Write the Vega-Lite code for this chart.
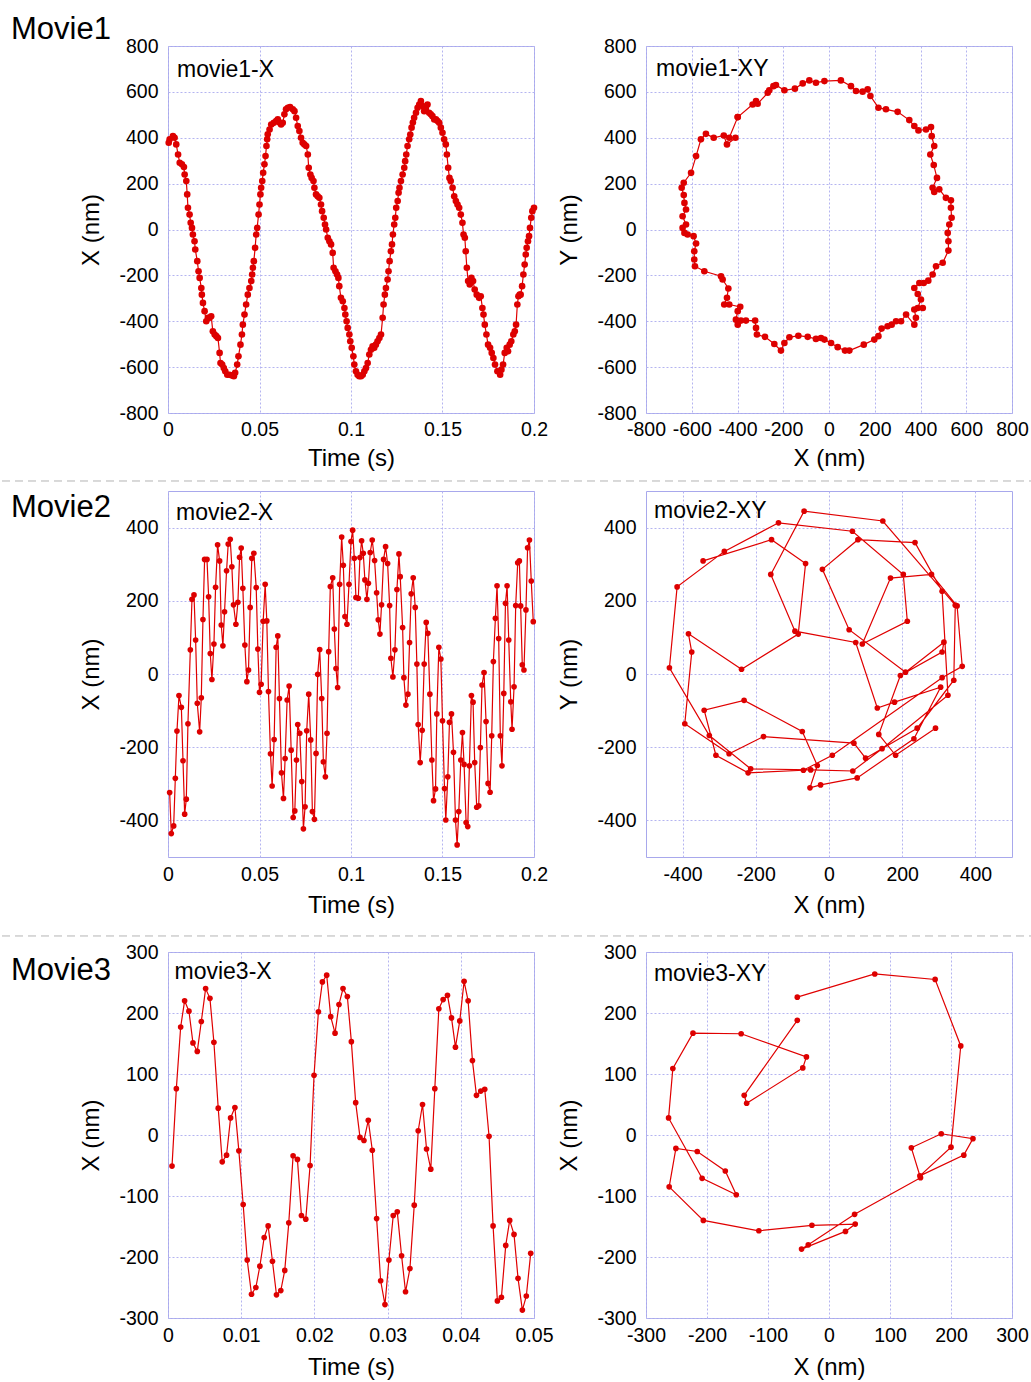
{
"$schema": "https://vega.github.io/schema/vega-lite/v6.json",
"padding": 0,
"autosize": {"type": "pad"},
"background": "white",
"config": {
 "font": "Liberation Sans",
 "view": {"stroke": "#a8a8ec", "strokeWidth": 1},
 "axis": {"domain": false, "ticks": false, "tickSize": 0, "grid": true, "gridColor": "#b4b4f0", "gridDash": [2,2], "gridWidth": 1, "labelFont": "Liberation Sans", "labelFontSize": 19.5, "labelColor": "#000000", "titleFont": "Liberation Sans", "titleFontSize": 24, "titleFontWeight": "normal", "titleColor": "#000000", "labelFlush": false, "labelOverlap": false, "labelBound": false},
 "axisX": {"labelPadding": 7, "titlePadding": 8},
 "axisY": {"labelPadding": 10, "titlePadding": 15},
 "point": {"filled": true, "opacity": 1},
 "text": {"font": "Liberation Sans", "color": "#000000"}
},
"datasets": {
 "m1x": [
{"t":0.0004,"x":378},{"t":0.0009,"x":393},{"t":0.0027,"x":407},{"t":0.0036,"x":400},{"t":0.0045,"x":371},{"t":0.0055,"x":327},{"t":0.0064,"x":291},{"t":0.0076,"x":284},{"t":0.0087,"x":272},{"t":0.0091,"x":240},{"t":0.0100,"x":211},{"t":0.0105,"x":153},{"t":0.0109,"x":95},{"t":0.0118,"x":65},{"t":0.0124,"x":29},{"t":0.0131,"x":7},{"t":0.0136,"x":-22},{"t":0.0145,"x":-51},{"t":0.0149,"x":-87},{"t":0.0160,"x":-138},{"t":0.0167,"x":-182},{"t":0.0173,"x":-211},{"t":0.0182,"x":-255},{"t":0.0185,"x":-284},{"t":0.0191,"x":-320},{"t":0.0200,"x":-356},{"t":0.0209,"x":-400},{"t":0.0218,"x":-385},{"t":0.0227,"x":-385},{"t":0.0236,"x":-378},{"t":0.0245,"x":-444},{"t":0.0255,"x":-458},{"t":0.0264,"x":-465},{"t":0.0273,"x":-473},{"t":0.0282,"x":-538},{"t":0.0287,"x":-582},{"t":0.0296,"x":-589},{"t":0.0305,"x":-604},{"t":0.0313,"x":-618},{"t":0.0324,"x":-633},{"t":0.0336,"x":-633},{"t":0.0349,"x":-636},{"t":0.0360,"x":-640},{"t":0.0367,"x":-625},{"t":0.0378,"x":-589},{"t":0.0385,"x":-553},{"t":0.0396,"x":-502},{"t":0.0404,"x":-458},{"t":0.0409,"x":-415},{"t":0.0418,"x":-371},{"t":0.0427,"x":-327},{"t":0.0436,"x":-284},{"t":0.0445,"x":-255},{"t":0.0455,"x":-225},{"t":0.0460,"x":-196},{"t":0.0464,"x":-167},{"t":0.0469,"x":-138},{"t":0.0476,"x":-80},{"t":0.0482,"x":-22},{"t":0.0487,"x":7},{"t":0.0495,"x":65},{"t":0.0500,"x":109},{"t":0.0505,"x":153},{"t":0.0509,"x":182},{"t":0.0515,"x":211},{"t":0.0520,"x":247},{"t":0.0527,"x":284},{"t":0.0533,"x":320},{"t":0.0538,"x":364},{"t":0.0542,"x":393},{"t":0.0545,"x":415},{"t":0.0555,"x":436},{"t":0.0564,"x":458},{"t":0.0578,"x":465},{"t":0.0591,"x":473},{"t":0.0600,"x":480},{"t":0.0609,"x":466},{"t":0.0618,"x":458},{"t":0.0627,"x":465},{"t":0.0636,"x":502},{"t":0.0645,"x":524},{"t":0.0655,"x":531},{"t":0.0667,"x":534},{"t":0.0682,"x":524},{"t":0.0691,"x":516},{"t":0.0700,"x":487},{"t":0.0709,"x":451},{"t":0.0718,"x":429},{"t":0.0727,"x":400},{"t":0.0736,"x":378},{"t":0.0745,"x":371},{"t":0.0755,"x":364},{"t":0.0764,"x":327},{"t":0.0769,"x":269},{"t":0.0778,"x":240},{"t":0.0785,"x":225},{"t":0.0795,"x":211},{"t":0.0800,"x":182},{"t":0.0809,"x":153},{"t":0.0818,"x":145},{"t":0.0827,"x":138},{"t":0.0836,"x":109},{"t":0.0842,"x":80},{"t":0.0851,"x":51},{"t":0.0858,"x":22},{"t":0.0864,"x":0},{"t":0.0873,"x":-36},{"t":0.0882,"x":-51},{"t":0.0891,"x":-65},{"t":0.0900,"x":-102},{"t":0.0905,"x":-167},{"t":0.0915,"x":-182},{"t":0.0924,"x":-196},{"t":0.0931,"x":-211},{"t":0.0936,"x":-247},{"t":0.0945,"x":-298},{"t":0.0955,"x":-313},{"t":0.0964,"x":-342},{"t":0.0969,"x":-371},{"t":0.0976,"x":-400},{"t":0.0982,"x":-429},{"t":0.0991,"x":-458},{"t":0.0996,"x":-487},{"t":0.1004,"x":-516},{"t":0.1013,"x":-553},{"t":0.1018,"x":-589},{"t":0.1027,"x":-618},{"t":0.1036,"x":-633},{"t":0.1045,"x":-640},{"t":0.1055,"x":-640},{"t":0.1064,"x":-633},{"t":0.1073,"x":-618},{"t":0.1082,"x":-604},{"t":0.1091,"x":-582},{"t":0.1100,"x":-545},{"t":0.1109,"x":-524},{"t":0.1118,"x":-509},{"t":0.1127,"x":-516},{"t":0.1136,"x":-502},{"t":0.1145,"x":-487},{"t":0.1155,"x":-473},{"t":0.1164,"x":-458},{"t":0.1173,"x":-385},{"t":0.1178,"x":-327},{"t":0.1185,"x":-284},{"t":0.1191,"x":-255},{"t":0.1200,"x":-218},{"t":0.1205,"x":-182},{"t":0.1211,"x":-138},{"t":0.1218,"x":-95},{"t":0.1224,"x":-65},{"t":0.1229,"x":-22},{"t":0.1236,"x":22},{"t":0.1242,"x":51},{"t":0.1247,"x":95},{"t":0.1255,"x":124},{"t":0.1260,"x":160},{"t":0.1265,"x":182},{"t":0.1273,"x":211},{"t":0.1282,"x":240},{"t":0.1291,"x":269},{"t":0.1296,"x":298},{"t":0.1302,"x":327},{"t":0.1309,"x":364},{"t":0.1318,"x":393},{"t":0.1324,"x":414},{"t":0.1331,"x":444},{"t":0.1338,"x":466},{"t":0.1345,"x":487},{"t":0.1355,"x":509},{"t":0.1364,"x":531},{"t":0.1373,"x":545},{"t":0.1382,"x":560},{"t":0.1391,"x":538},{"t":0.1400,"x":516},{"t":0.1409,"x":531},{"t":0.1418,"x":545},{"t":0.1427,"x":509},{"t":0.1436,"x":502},{"t":0.1445,"x":494},{"t":0.1455,"x":480},{"t":0.1464,"x":480},{"t":0.1473,"x":473},{"t":0.1482,"x":465},{"t":0.1491,"x":444},{"t":0.1500,"x":422},{"t":0.1509,"x":393},{"t":0.1518,"x":371},{"t":0.1524,"x":327},{"t":0.1531,"x":269},{"t":0.1538,"x":225},{"t":0.1545,"x":211},{"t":0.1555,"x":182},{"t":0.1564,"x":145},{"t":0.1573,"x":124},{"t":0.1582,"x":109},{"t":0.1591,"x":95},{"t":0.1600,"x":65},{"t":0.1609,"x":29},{"t":0.1615,"x":-22},{"t":0.1622,"x":-36},{"t":0.1627,"x":-95},{"t":0.1633,"x":-167},{"t":0.1640,"x":-225},{"t":0.1649,"x":-240},{"t":0.1658,"x":-211},{"t":0.1667,"x":-225},{"t":0.1676,"x":-262},{"t":0.1687,"x":-284},{"t":0.1700,"x":-298},{"t":0.1709,"x":-291},{"t":0.1718,"x":-342},{"t":0.1724,"x":-371},{"t":0.1731,"x":-415},{"t":0.1740,"x":-458},{"t":0.1749,"x":-502},{"t":0.1760,"x":-516},{"t":0.1769,"x":-538},{"t":0.1778,"x":-560},{"t":0.1787,"x":-589},{"t":0.1800,"x":-618},{"t":0.1815,"x":-633},{"t":0.1822,"x":-611},{"t":0.1831,"x":-589},{"t":0.1840,"x":-538},{"t":0.1851,"x":-516},{"t":0.1858,"x":-531},{"t":0.1867,"x":-502},{"t":0.1876,"x":-487},{"t":0.1887,"x":-458},{"t":0.1895,"x":-444},{"t":0.1902,"x":-415},{"t":0.1909,"x":-327},{"t":0.1915,"x":-291},{"t":0.1922,"x":-284},{"t":0.1927,"x":-284},{"t":0.1935,"x":-247},{"t":0.1942,"x":-196},{"t":0.1949,"x":-153},{"t":0.1955,"x":-109},{"t":0.1960,"x":-80},{"t":0.1967,"x":-51},{"t":0.1973,"x":-29},{"t":0.1978,"x":7},{"t":0.1985,"x":51},{"t":0.1991,"x":80},{"t":0.2000,"x":95}
 ],
 "m1xy": [
{"x":-399,"y":490},{"x":-334,"y":545},{"x":-319,"y":560},{"x":-312,"y":548},{"x":-268,"y":596},{"x":-261,"y":607},{"x":-243,"y":625},{"x":-232,"y":630},{"x":-195,"y":607},{"x":-149,"y":614},{"x":-115,"y":637},{"x":-86,"y":650},{"x":-57,"y":640},{"x":-20,"y":647},{"x":52,"y":650},{"x":96,"y":625},{"x":118,"y":604},{"x":147,"y":601},{"x":169,"y":611},{"x":181,"y":582},{"x":216,"y":531},{"x":249,"y":524},{"x":300,"y":513},{"x":351,"y":477},{"x":373,"y":451},{"x":391,"y":432},{"x":424,"y":436},{"x":446,"y":447},{"x":449,"y":407},{"x":460,"y":364},{"x":443,"y":327},{"x":458,"y":281},{"x":472,"y":225},{"x":453,"y":182},{"x":460,"y":164},{"x":482,"y":175},{"x":511,"y":138},{"x":533,"y":127},{"x":533,"y":95},{"x":536,"y":51},{"x":526,"y":22},{"x":519,"y":-15},{"x":522,"y":-51},{"x":522,"y":-92},{"x":497,"y":-145},{"x":468,"y":-160},{"x":453,"y":-196},{"x":434,"y":-223},{"x":414,"y":-233},{"x":395,"y":-233},{"x":373,"y":-255},{"x":388,"y":-281},{"x":402,"y":-305},{"x":388,"y":-342},{"x":410,"y":-342},{"x":373,"y":-349},{"x":380,"y":-385},{"x":373,"y":-415},{"x":337,"y":-371},{"x":315,"y":-400},{"x":293,"y":-400},{"x":274,"y":-415},{"x":256,"y":-422},{"x":230,"y":-432},{"x":216,"y":-465},{"x":198,"y":-480},{"x":152,"y":-502},{"x":89,"y":-528},{"x":70,"y":-528},{"x":38,"y":-513},{"x":9,"y":-495},{"x":-20,"y":-480},{"x":-35,"y":-473},{"x":-57,"y":-477},{"x":-93,"y":-468},{"x":-134,"y":-463},{"x":-173,"y":-470},{"x":-195,"y":-495},{"x":-210,"y":-528},{"x":-239,"y":-499},{"x":-280,"y":-468},{"x":-315,"y":-458},{"x":-319,"y":-429},{"x":-323,"y":-397},{"x":-363,"y":-397},{"x":-385,"y":-397},{"x":-399,"y":-415},{"x":-407,"y":-393},{"x":-399,"y":-356},{"x":-388,"y":-337},{"x":-436,"y":-327},{"x":-458,"y":-327},{"x":-446,"y":-298},{"x":-440,"y":-257},{"x":-465,"y":-218},{"x":-472,"y":-204},{"x":-545,"y":-182},{"x":-586,"y":-160},{"x":-589,"y":-131},{"x":-589,"y":-95},{"x":-581,"y":-61},{"x":-592,"y":-29},{"x":-618,"y":-22},{"x":-632,"y":-15},{"x":-640,"y":7},{"x":-625,"y":22},{"x":-640,"y":58},{"x":-625,"y":87},{"x":-632,"y":116},{"x":-635,"y":150},{"x":-644,"y":182},{"x":-635,"y":204},{"x":-603,"y":247},{"x":-581,"y":320},{"x":-560,"y":393},{"x":-538,"y":417},{"x":-504,"y":400},{"x":-460,"y":410},{"x":-446,"y":371},{"x":-409,"y":400},{"x":-436,"y":400},{"x":-399,"y":490}
 ],
 "m2x": [
{"t":0.0009,"x":-324},{"t":0.0018,"x":-436},{"t":0.0031,"x":-415},{"t":0.0040,"x":-285},{"t":0.0049,"x":-156},{"t":0.0060,"x":-59},{"t":0.0073,"x":-91},{"t":0.0082,"x":-237},{"t":0.0091,"x":-383},{"t":0.0100,"x":-342},{"t":0.0109,"x":-136},{"t":0.0122,"x":66},{"t":0.0131,"x":204},{"t":0.0142,"x":216},{"t":0.0151,"x":93},{"t":0.0160,"x":-80},{"t":0.0173,"x":-158},{"t":0.0182,"x":-65},{"t":0.0191,"x":149},{"t":0.0200,"x":313},{"t":0.0213,"x":313},{"t":0.0222,"x":211},{"t":0.0231,"x":56},{"t":0.0240,"x":-15},{"t":0.0251,"x":82},{"t":0.0260,"x":237},{"t":0.0271,"x":353},{"t":0.0282,"x":309},{"t":0.0291,"x":134},{"t":0.0300,"x":77},{"t":0.0309,"x":170},{"t":0.0320,"x":282},{"t":0.0329,"x":355},{"t":0.0340,"x":368},{"t":0.0349,"x":293},{"t":0.0358,"x":189},{"t":0.0371,"x":136},{"t":0.0382,"x":196},{"t":0.0391,"x":319},{"t":0.0400,"x":344},{"t":0.0409,"x":234},{"t":0.0420,"x":79},{"t":0.0431,"x":-21},{"t":0.0440,"x":11},{"t":0.0449,"x":182},{"t":0.0458,"x":316},{"t":0.0469,"x":330},{"t":0.0482,"x":236},{"t":0.0491,"x":68},{"t":0.0500,"x":-50},{"t":0.0509,"x":-28},{"t":0.0520,"x":144},{"t":0.0531,"x":245},{"t":0.0540,"x":145},{"t":0.0549,"x":-48},{"t":0.0560,"x":-218},{"t":0.0569,"x":-306},{"t":0.0580,"x":-179},{"t":0.0591,"x":73},{"t":0.0600,"x":104},{"t":0.0609,"x":-67},{"t":0.0620,"x":-270},{"t":0.0631,"x":-340},{"t":0.0640,"x":-231},{"t":0.0651,"x":-71},{"t":0.0662,"x":-33},{"t":0.0673,"x":-208},{"t":0.0684,"x":-392},{"t":0.0693,"x":-374},{"t":0.0702,"x":-235},{"t":0.0709,"x":-138},{"t":0.0720,"x":-162},{"t":0.0731,"x":-294},{"t":0.0740,"x":-423},{"t":0.0749,"x":-363},{"t":0.0758,"x":-155},{"t":0.0769,"x":-55},{"t":0.0780,"x":-180},{"t":0.0789,"x":-376},{"t":0.0800,"x":-397},{"t":0.0809,"x":-217},{"t":0.0818,"x":-1},{"t":0.0829,"x":67},{"t":0.0840,"x":-67},{"t":0.0849,"x":-240},{"t":0.0860,"x":-281},{"t":0.0869,"x":-162},{"t":0.0878,"x":61},{"t":0.0887,"x":239},{"t":0.0900,"x":263},{"t":0.0909,"x":123},{"t":0.0918,"x":15},{"t":0.0927,"x":-37},{"t":0.0938,"x":245},{"t":0.0949,"x":374},{"t":0.0958,"x":297},{"t":0.0967,"x":157},{"t":0.0978,"x":136},{"t":0.0989,"x":245},{"t":0.1000,"x":362},{"t":0.1009,"x":393},{"t":0.1018,"x":316},{"t":0.1027,"x":209},{"t":0.1040,"x":207},{"t":0.1049,"x":318},{"t":0.1058,"x":364},{"t":0.1067,"x":330},{"t":0.1076,"x":257},{"t":0.1087,"x":204},{"t":0.1095,"x":248},{"t":0.1105,"x":332},{"t":0.1116,"x":366},{"t":0.1129,"x":310},{"t":0.1140,"x":222},{"t":0.1149,"x":148},{"t":0.1158,"x":109},{"t":0.1167,"x":189},{"t":0.1178,"x":313},{"t":0.1189,"x":348},{"t":0.1200,"x":302},{"t":0.1211,"x":187},{"t":0.1218,"x":43},{"t":0.1229,"x":-8},{"t":0.1240,"x":66},{"t":0.1251,"x":231},{"t":0.1262,"x":328},{"t":0.1269,"x":266},{"t":0.1282,"x":127},{"t":0.1289,"x":-10},{"t":0.1300,"x":-85},{"t":0.1311,"x":-55},{"t":0.1320,"x":86},{"t":0.1329,"x":219},{"t":0.1340,"x":263},{"t":0.1351,"x":182},{"t":0.1360,"x":27},{"t":0.1367,"x":-138},{"t":0.1378,"x":-242},{"t":0.1389,"x":-154},{"t":0.1400,"x":27},{"t":0.1411,"x":141},{"t":0.1420,"x":111},{"t":0.1431,"x":-55},{"t":0.1442,"x":-235},{"t":0.1451,"x":-346},{"t":0.1462,"x":-314},{"t":0.1469,"x":-109},{"t":0.1480,"x":73},{"t":0.1491,"x":41},{"t":0.1500,"x":-128},{"t":0.1511,"x":-313},{"t":0.1518,"x":-399},{"t":0.1529,"x":-281},{"t":0.1538,"x":-132},{"t":0.1549,"x":-109},{"t":0.1560,"x":-214},{"t":0.1571,"x":-399},{"t":0.1580,"x":-467},{"t":0.1589,"x":-376},{"t":0.1600,"x":-235},{"t":0.1609,"x":-160},{"t":0.1618,"x":-247},{"t":0.1629,"x":-406},{"t":0.1638,"x":-417},{"t":0.1647,"x":-251},{"t":0.1658,"x":-59},{"t":0.1667,"x":-77},{"t":0.1676,"x":-242},{"t":0.1687,"x":-364},{"t":0.1698,"x":-360},{"t":0.1707,"x":-201},{"t":0.1716,"x":-30},{"t":0.1727,"x":4},{"t":0.1738,"x":-130},{"t":0.1749,"x":-299},{"t":0.1760,"x":-323},{"t":0.1769,"x":-169},{"t":0.1778,"x":34},{"t":0.1789,"x":152},{"t":0.1798,"x":241},{"t":0.1807,"x":97},{"t":0.1816,"x":-169},{"t":0.1825,"x":-251},{"t":0.1835,"x":-53},{"t":0.1844,"x":193},{"t":0.1853,"x":241},{"t":0.1862,"x":93},{"t":0.1873,"x":-76},{"t":0.1880,"x":-151},{"t":0.1891,"x":-35},{"t":0.1900,"x":187},{"t":0.1911,"x":304},{"t":0.1920,"x":309},{"t":0.1927,"x":186},{"t":0.1936,"x":25},{"t":0.1945,"x":11},{"t":0.1956,"x":175},{"t":0.1965,"x":345},{"t":0.1975,"x":366},{"t":0.1985,"x":254},{"t":0.1996,"x":143}
 ],
 "m2xy": [
{"x":-344,"y":309},{"x":-157,"y":367},{"x":-64,"y":302},{"x":-84,"y":109},{"x":-239,"y":13},{"x":-384,"y":110},{"x":-375,"y":60},{"x":-394,"y":-136},{"x":-273,"y":-218},{"x":-179,"y":-171},{"x":68,"y":-189},{"x":100,"y":-230},{"x":241,"y":-148},{"x":341,"y":-17},{"x":345,"y":188},{"x":147,"y":418},{"x":-68,"y":445},{"x":-159,"y":272},{"x":-93,"y":117},{"x":73,"y":86},{"x":132,"y":-93},{"x":179,"y":-77},{"x":305,"y":-36},{"x":232,"y":-177},{"x":77,"y":-284},{"x":-23,"y":-303},{"x":-52,"y":-311},{"x":-32,"y":-250},{"x":-73,"y":-157},{"x":-232,"y":-72},{"x":-341,"y":-99},{"x":-309,"y":-222},{"x":-221,"y":-270},{"x":-70,"y":-263},{"x":9,"y":-222},{"x":309,"y":-10},{"x":364,"y":21},{"x":350,"y":186},{"x":280,"y":272},{"x":168,"y":262},{"x":91,"y":82},{"x":214,"y":144},{"x":203,"y":272},{"x":64,"y":390},{"x":-138,"y":413},{"x":-286,"y":335},{"x":-415,"y":238},{"x":-436,"y":17},{"x":-327,"y":-168},{"x":-214,"y":-259},{"x":-50,"y":-262},{"x":65,"y":-265},{"x":145,"y":-204},{"x":325,"y":-58},{"x":309,"y":226},{"x":235,"y":359},{"x":79,"y":367},{"x":-18,"y":286},{"x":55,"y":121},{"x":209,"y":5},{"x":314,"y":87},{"x":309,"y":60},{"x":195,"y":-4},{"x":136,"y":-165},{"x":182,"y":-222},{"x":291,"y":-148}
 ],
 "m3x": [
{"t":0.00055,"x":-51},{"t":0.00114,"x":76},{"t":0.00173,"x":177},{"t":0.00227,"x":220},{"t":0.00286,"x":203},{"t":0.00341,"x":151},{"t":0.0040,"x":137},{"t":0.00455,"x":186},{"t":0.00514,"x":240},{"t":0.00573,"x":224},{"t":0.00627,"x":152},{"t":0.00686,"x":44},{"t":0.00741,"x":-44},{"t":0.0080,"x":-33},{"t":0.00855,"x":28},{"t":0.00914,"x":45},{"t":0.00968,"x":-26},{"t":0.01027,"x":-114},{"t":0.01082,"x":-205},{"t":0.01141,"x":-261},{"t":0.0120,"x":-250},{"t":0.01255,"x":-215},{"t":0.01314,"x":-168},{"t":0.01368,"x":-149},{"t":0.01427,"x":-207},{"t":0.01482,"x":-262},{"t":0.01541,"x":-255},{"t":0.01595,"x":-222},{"t":0.0165,"x":-144},{"t":0.01709,"x":-34},{"t":0.01768,"x":-40},{"t":0.01823,"x":-132},{"t":0.01882,"x":-138},{"t":0.01941,"x":-50},{"t":0.01995,"x":98},{"t":0.02055,"x":202},{"t":0.02109,"x":251},{"t":0.02168,"x":262},{"t":0.02223,"x":194},{"t":0.02282,"x":167},{"t":0.02336,"x":214},{"t":0.02391,"x":240},{"t":0.0245,"x":227},{"t":0.02505,"x":153},{"t":0.02564,"x":53},{"t":0.02623,"x":-4},{"t":0.02677,"x":-9},{"t":0.02736,"x":24},{"t":0.02791,"x":-25},{"t":0.0285,"x":-137},{"t":0.02905,"x":-239},{"t":0.02964,"x":-278},{"t":0.03018,"x":-205},{"t":0.03077,"x":-132},{"t":0.03132,"x":-126},{"t":0.03191,"x":-198},{"t":0.03245,"x":-257},{"t":0.03305,"x":-219},{"t":0.03364,"x":-115},{"t":0.03418,"x":7},{"t":0.03477,"x":50},{"t":0.03532,"x":-23},{"t":0.0359,"x":-56},{"t":0.03645,"x":76},{"t":0.037,"x":207},{"t":0.03759,"x":222},{"t":0.03818,"x":229},{"t":0.03873,"x":192},{"t":0.03927,"x":144},{"t":0.03986,"x":187},{"t":0.04045,"x":252},{"t":0.041,"x":220},{"t":0.04159,"x":122},{"t":0.04214,"x":65},{"t":0.04273,"x":72},{"t":0.04327,"x":75},{"t":0.04386,"x":-2},{"t":0.04441,"x":-149},{"t":0.045,"x":-272},{"t":0.04555,"x":-266},{"t":0.04614,"x":-181},{"t":0.04668,"x":-140},{"t":0.04727,"x":-163},{"t":0.04782,"x":-235},{"t":0.04841,"x":-287},{"t":0.04895,"x":-264},{"t":0.04955,"x":-194}
 ],
 "m3xy": [
{"x":-52,"y":188},{"x":-139,"y":65},{"x":-135,"y":52},{"x":-43,"y":110},{"x":-37,"y":128},{"x":-144,"y":166},{"x":-223,"y":167},{"x":-256,"y":109},{"x":-263,"y":28},{"x":-208,"y":-71},{"x":-152,"y":-98},{"x":-170,"y":-59},{"x":-216,"y":-27},{"x":-251,"y":-22},{"x":-262,"y":-85},{"x":-206,"y":-140},{"x":-115,"y":-157},{"x":-28,"y":-148},{"x":43,"y":-146},{"x":27,"y":-158},{"x":-45,"y":-187},{"x":-34,"y":-180},{"x":42,"y":-130},{"x":150,"y":-70},{"x":135,"y":-21},{"x":184,"y":2},{"x":236,"y":-6},{"x":221,"y":-33},{"x":149,"y":-67},{"x":200,"y":-20},{"x":216,"y":146},{"x":174,"y":255},{"x":75,"y":264},{"x":-52,"y":226}
 ]
},
"concat": [
 {
  "hconcat": [
   {
    "width": 366, "height": 367,
    "layer": [
     {"data": {"name": "m1x"}, "mark": {"type": "line", "color": "#e00000", "strokeWidth": 1.2},
      "encoding": {
       "x": {"field": "t", "type": "quantitative", "scale": {"domain": [0, 0.2], "nice": false, "zero": false}, "axis": {"title": "Time (s)", "values": [0, 0.05, 0.1, 0.15, 0.2], "labelExpr": "datum.value + ''"}},
       "y": {"field": "x", "type": "quantitative", "scale": {"domain": [-800, 800], "nice": false, "zero": false}, "axis": {"title": "X (nm)", "values": [-800, -600, -400, -200, 0, 200, 400, 600, 800], "labelExpr": "datum.value + ''"}}}},
     {"data": {"name": "m1x"}, "mark": {"type": "point", "filled": true, "color": "#dd0000", "size": 44, "opacity": 1},
      "encoding": {"x": {"field": "t", "type": "quantitative"}, "y": {"field": "x", "type": "quantitative"}}},
     {"data": {"values": [{"label": "movie1-X"}]}, "mark": {"type": "text", "align": "left", "baseline": "alphabetic", "fontSize": 23},
      "encoding": {"x": {"datum": 0.0049}, "y": {"datum": 665}, "text": {"field": "label"}}},
     {"data": {"values": [{"label": "Movie1"}]}, "mark": {"type": "text", "align": "left", "baseline": "alphabetic", "fontSize": 31},
      "encoding": {"x": {"datum": -0.0858}, "y": {"datum": 829}, "text": {"field": "label"}}},
     {"data": {"values": [{}]}, "mark": {"type": "rule", "opacity": 0},
      "encoding": {"x": {"datum": -0.091257}, "x2": {"datum": 0.472131}, "y": {"datum": 996.2}}},
     {"data": {"values": [{}]}, "mark": {"type": "rule", "color": "#b4b4b4", "strokeWidth": 1, "strokeDash": [8, 5]},
      "encoding": {"x": {"datum": -0.09071}, "x2": {"datum": 0.472131}, "y": {"datum": -1096.4}}}
    ]
   },
   {
    "width": 366, "height": 367,
    "layer": [
     {"data": {"name": "m1xy"}, "mark": {"type": "line", "color": "#e00000", "strokeWidth": 1.2},
      "encoding": {
       "x": {"field": "x", "type": "quantitative", "scale": {"domain": [-800, 800], "nice": false, "zero": false}, "axis": {"title": "X (nm)", "values": [-800, -600, -400, -200, 0, 200, 400, 600, 800], "labelExpr": "datum.value + ''"}},
       "y": {"field": "y", "type": "quantitative", "scale": {"domain": [-800, 800], "nice": false, "zero": false}, "axis": {"title": "Y (nm)", "values": [-800, -600, -400, -200, 0, 200, 400, 600, 800], "labelExpr": "datum.value + ''"}},
       "order": {"value": null}}},
     {"data": {"name": "m1xy"}, "mark": {"type": "point", "filled": true, "color": "#dd0000", "size": 44, "opacity": 1},
      "encoding": {"x": {"field": "x", "type": "quantitative"}, "y": {"field": "y", "type": "quantitative"}}},
     {"data": {"values": [{"label": "movie1-XY"}]}, "mark": {"type": "text", "align": "left", "baseline": "alphabetic", "fontSize": 23},
      "encoding": {"x": {"datum": -756}, "y": {"datum": 669}, "text": {"field": "label"}}}
    ]
   }
  ],
  "spacing": 112, "bounds": "flush"
 },
 {
  "hconcat": [
   {
    "width": 366, "height": 366,
    "layer": [
     {"data": {"name": "m2x"}, "mark": {"type": "line", "color": "#e00000", "strokeWidth": 1.2},
      "encoding": {
       "x": {"field": "t", "type": "quantitative", "scale": {"domain": [0, 0.2], "nice": false, "zero": false}, "axis": {"title": "Time (s)", "values": [0, 0.05, 0.1, 0.15, 0.2], "labelExpr": "datum.value + ''", "labelPadding": 8, "titlePadding": 10}},
       "y": {"field": "x", "type": "quantitative", "scale": {"domain": [-500, 500], "nice": false, "zero": false}, "axis": {"title": "X (nm)", "values": [-400, -200, 0, 200, 400], "labelExpr": "datum.value + ''"}}}},
     {"data": {"name": "m2x"}, "mark": {"type": "point", "filled": true, "color": "#dd0000", "size": 32, "opacity": 1},
      "encoding": {"x": {"field": "t", "type": "quantitative"}, "y": {"field": "x", "type": "quantitative"}}},
     {"data": {"values": [{"label": "movie2-X"}]}, "mark": {"type": "text", "align": "left", "baseline": "alphabetic", "fontSize": 23},
      "encoding": {"x": {"datum": 0.0044}, "y": {"datum": 421}, "text": {"field": "label"}}},
     {"data": {"values": [{"label": "Movie2"}]}, "mark": {"type": "text", "align": "left", "baseline": "alphabetic", "fontSize": 31},
      "encoding": {"x": {"datum": -0.0858}, "y": {"datum": 429}, "text": {"field": "label"}}},
     {"data": {"values": [{}]}, "mark": {"type": "rule", "opacity": 0},
      "encoding": {"x": {"datum": -0.091257}, "x2": {"datum": 0.472131}, "y": {"datum": 521.9}}},
     {"data": {"values": [{}]}, "mark": {"type": "rule", "color": "#b4b4b4", "strokeWidth": 1, "strokeDash": [8, 5]},
      "encoding": {"x": {"datum": -0.09071}, "x2": {"datum": 0.472131}, "y": {"datum": -715.8}}}
    ]
   },
   {
    "width": 366, "height": 366,
    "layer": [
     {"data": {"name": "m2xy"}, "mark": {"type": "line", "color": "#e00000", "strokeWidth": 1.2},
      "encoding": {
       "x": {"field": "x", "type": "quantitative", "scale": {"domain": [-500, 500], "nice": false, "zero": false}, "axis": {"title": "X (nm)", "values": [-400, -200, 0, 200, 400], "labelExpr": "datum.value + ''", "labelPadding": 8, "titlePadding": 10}},
       "y": {"field": "y", "type": "quantitative", "scale": {"domain": [-500, 500], "nice": false, "zero": false}, "axis": {"title": "Y (nm)", "values": [-400, -200, 0, 200, 400], "labelExpr": "datum.value + ''"}},
       "order": {"value": null}}},
     {"data": {"name": "m2xy"}, "mark": {"type": "point", "filled": true, "color": "#dd0000", "size": 32, "opacity": 1},
      "encoding": {"x": {"field": "x", "type": "quantitative"}, "y": {"field": "y", "type": "quantitative"}}},
     {"data": {"values": [{"label": "movie2-XY"}]}, "mark": {"type": "text", "align": "left", "baseline": "alphabetic", "fontSize": 23},
      "encoding": {"x": {"datum": -478}, "y": {"datum": 426}, "text": {"field": "label"}}}
    ]
   }
  ],
  "spacing": 112, "bounds": "flush"
 },
 {
  "hconcat": [
   {
    "width": 366, "height": 366,
    "layer": [
     {"data": {"name": "m3x"}, "mark": {"type": "line", "color": "#e00000", "strokeWidth": 1.2},
      "encoding": {
       "x": {"field": "t", "type": "quantitative", "scale": {"domain": [0, 0.05], "nice": false, "zero": false}, "axis": {"title": "Time (s)", "values": [0, 0.01, 0.02, 0.03, 0.04, 0.05], "labelExpr": "datum.value + ''", "labelPadding": 8, "titlePadding": 11}},
       "y": {"field": "x", "type": "quantitative", "scale": {"domain": [-300, 300], "nice": false, "zero": false}, "axis": {"title": "X (nm)", "values": [-300, -200, -100, 0, 100, 200, 300], "labelExpr": "datum.value + ''"}}}},
     {"data": {"name": "m3x"}, "mark": {"type": "point", "filled": true, "color": "#dd0000", "size": 32, "opacity": 1},
      "encoding": {"x": {"field": "t", "type": "quantitative"}, "y": {"field": "x", "type": "quantitative"}}},
     {"data": {"values": [{"label": "movie3-X"}]}, "mark": {"type": "text", "align": "left", "baseline": "alphabetic", "fontSize": 23},
      "encoding": {"x": {"datum": 0.00089}, "y": {"datum": 256}, "text": {"field": "label"}}},
     {"data": {"values": [{"label": "Movie3"}]}, "mark": {"type": "text", "align": "left", "baseline": "alphabetic", "fontSize": 31},
      "encoding": {"x": {"datum": -0.02145}, "y": {"datum": 254}, "text": {"field": "label"}}},
     {"data": {"values": [{}]}, "mark": {"type": "rule", "opacity": 0},
      "encoding": {"x": {"datum": -0.022814}, "x2": {"datum": 0.118033}, "y": {"datum": 322.95}}},
     {"data": {"values": [{}]}, "mark": {"type": "rule", "opacity": 0},
      "encoding": {"x": {"datum": -0.022814}, "x2": {"datum": 0.118033}, "y": {"datum": -409.8}}}
    ]
   },
   {
    "width": 366, "height": 366,
    "layer": [
     {"data": {"name": "m3xy"}, "mark": {"type": "line", "color": "#e00000", "strokeWidth": 1.2},
      "encoding": {
       "x": {"field": "x", "type": "quantitative", "scale": {"domain": [-300, 300], "nice": false, "zero": false}, "axis": {"title": "X (nm)", "values": [-300, -200, -100, 0, 100, 200, 300], "labelExpr": "datum.value + ''", "labelPadding": 8, "titlePadding": 11}},
       "y": {"field": "y", "type": "quantitative", "scale": {"domain": [-300, 300], "nice": false, "zero": false}, "axis": {"title": "X (nm)", "values": [-300, -200, -100, 0, 100, 200, 300], "labelExpr": "datum.value + ''"}},
       "order": {"value": null}}},
     {"data": {"name": "m3xy"}, "mark": {"type": "point", "filled": true, "color": "#dd0000", "size": 32, "opacity": 1},
      "encoding": {"x": {"field": "x", "type": "quantitative"}, "y": {"field": "y", "type": "quantitative"}}},
     {"data": {"values": [{"label": "movie3-XY"}]}, "mark": {"type": "text", "align": "left", "baseline": "alphabetic", "fontSize": 23},
      "encoding": {"x": {"datum": -287}, "y": {"datum": 252}, "text": {"field": "label"}}}
    ]
   }
  ],
  "spacing": 112, "bounds": "flush"
 }
],
"columns": 1,
"spacing": 0,
"bounds": "full",
"align": "each"
}
